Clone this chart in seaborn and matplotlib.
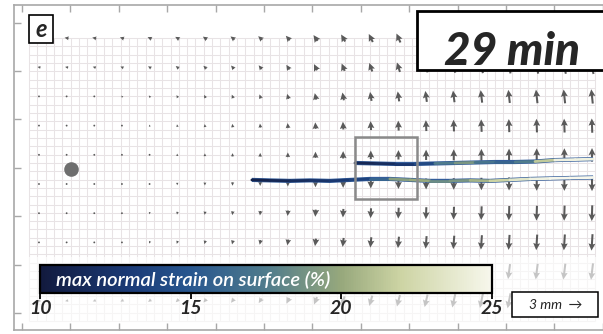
import numpy as np
import matplotlib
matplotlib.use('Agg')
import matplotlib.pyplot as plt
import seaborn as sns
from matplotlib.colors import LinearSegmentedColormap, Normalize
from matplotlib.collections import LineCollection
from matplotlib.patches import Rectangle
import matplotlib.cm as cm

# --- displacement field (mm-ish, axis units) ---
# vertical displacement per column (near the crack), left -> right
col_disp = [0.010, 0.014, 0.021, 0.031, 0.041, 0.052, 0.062, 0.072, 0.083, 0.103,
            0.134, 0.160, 0.185, 0.205, 0.225, 0.240, 0.258, 0.270, 0.280, 0.285, 0.295]
# per row (top -> bottom): gain, side of crack (+ up / - down), leftward drift
row_gain = [0.9, 0.95, 1.0, 1.0, 0.95, 1.0, 1.1, 1.15, 1.15, 1.15]
row_side = [1, 1, 1, 1, 1, -1, -1, -1, -1, -1]
row_drift = [0.083, 0.062, 0.031, 0.010, 0.0, 0.0, 0.010, 0.021, 0.041, 0.062]

# --- crack traces with max normal strain (%) ---
lower_x = [4.75, 5.12, 5.54, 5.95, 6.36, 6.78, 7.19, 7.60, 8.02, 8.43, 8.84, 9.26,
           9.67, 10.08, 10.50, 10.91, 11.32, 11.80]
lower_y = [2.75, 2.74, 2.73, 2.74, 2.73, 2.75, 2.77, 2.77, 2.75, 2.73, 2.73, 2.74,
           2.73, 2.75, 2.77, 2.78, 2.79, 2.80]
lower_strain = [10.5, 11, 11.5, 12, 12.5, 13, 14, 18, 21, 19, 18, 20, 21, 23, 24,
                25, 25, 25]

upper_x = [6.88, 7.29, 7.71, 8.12, 8.53, 8.95, 9.36, 9.77, 10.19, 10.60, 11.01, 11.43, 11.80]
upper_y = [3.10, 3.09, 3.08, 3.08, 3.09, 3.10, 3.11, 3.12, 3.12, 3.13, 3.16, 3.17, 3.18]
upper_strain = [11, 11.5, 12, 13, 15, 20, 18, 16, 16, 19, 24, 25, 24]

hole_x, hole_y = [1.01], [2.98]
strain_ticks = [10, 15, 20, 25]
strain_label = 'max normal strain on surface (%)'
panel_label = 'e'
time_label = '29 min'
scale_label = '3 mm  \u2192'

sns.set_theme(style='white')
plt.rcParams['font.family'] = ['Lato', 'DejaVu Sans']

cmap = LinearSegmentedColormap.from_list('strain', [
    (0.0, '#121a3e'), (0.2, '#1b3b77'), (0.333, '#28578f'), (0.5, '#4f7b8c'),
    (0.667, '#97a87c'), (0.8, '#cdd4a4'), (1.0, '#f7f7ec')])
norm = Normalize(10, 25)

fig = plt.figure(figsize=(6.03, 3.34), dpi=100)
ax = fig.add_axes([14 / 603, 4 / 334, 598 / 603, 325 / 334])
ax.set_xlim(-0.165, 12.19)
ax.set_ylim(-0.351, 6.364)
ax.set_facecolor('white')

for s in ax.spines.values():
    s.set_color('#a8a8a8')
    s.set_linewidth(1.2)
    s.set_zorder(10)
ax.set_xticks(range(13))
ax.set_yticks(range(7))
ax.tick_params(direction='in', length=5, width=1, color='#a8a8a8', top=True, right=True,
               bottom=True, left=True, labelbottom=False, labelleft=False)

# fine background grid
gx = np.linspace(0.145, 11.84, 69)
gy = np.linspace(-0.165, 5.68, 35)
ax.vlines(gx, gy[0], gy[-1], color='#e8e3e5', lw=0.75, zorder=1)
ax.hlines(gy, gx[0], gx[-1], color='#e8e3e5', lw=0.75, zorder=1)

# displacement arrows
X, Y = np.meshgrid(0.351 + 0.5713 * np.arange(len(col_disp)),
                   5.682 - 0.6033 * np.arange(len(row_gain)))
V = np.outer(np.array(row_side) * np.array(row_gain), col_disp)
U = -np.outer(row_drift, np.ones(len(col_disp)))
ax.quiver(X, Y, U, V, angles='xy', scale_units='xy', scale=1, units='xy',
          width=0.042, headwidth=3.4, headlength=3.5, headaxislength=3.1,
          pivot='mid', color='#5a5a5a', zorder=3)

# cracks coloured by strain
for xs, ys, ss in ((lower_x, lower_y, lower_strain), (upper_x, upper_y, upper_strain)):
    ax.plot(xs, ys, color='#345d9a', lw=3.0, solid_capstyle='butt', zorder=4)
    pts = np.column_stack([xs, ys])
    segs = np.stack([pts[:-1], pts[1:]], axis=1)
    ss = np.asarray(ss, dtype=float)
    lc = LineCollection(segs, cmap=cmap, norm=norm, lw=2.0, zorder=5, capstyle='round')
    lc.set_array((ss[:-1] + ss[1:]) / 2)
    ax.add_collection(lc)

# hole marker
sns.scatterplot(x=hole_x, y=hole_y, s=110, color='#6e6e6e', linewidth=0, ax=ax, zorder=6)

# zoom window
ax.add_patch(Rectangle((6.88, 2.355), 1.28, 1.28, fill=False, edgecolor='#8a8a8a',
                       lw=1.8, zorder=6))

# faded band at the bottom
ax.add_patch(Rectangle((0.0, -0.186), 12.2, 1.343, facecolor='white', alpha=0.65,
                       lw=0, zorder=7))

# colour bar
cax = fig.add_axes([40 / 603, 41 / 334, 452 / 603, 28 / 334])
sm = cm.ScalarMappable(norm=norm, cmap=cmap)
cb = fig.colorbar(sm, cax=cax, orientation='horizontal', ticks=strain_ticks)
cb.outline.set_linewidth(1.6)
cb.outline.set_edgecolor('black')
cax.tick_params(direction='out', length=4, width=1.3, color='black', labelsize=14, pad=1)
for t in cax.get_xticklabels():
    t.set_fontstyle('italic')
    t.set_fontweight('bold')
cax.text(0.036, 0.45, strain_label, transform=cax.transAxes, color='white', fontsize=14.5,
         style='italic', weight='semibold', va='center', ha='left')

# time label box
fig.add_artist(Rectangle((417 / 603, 264 / 334), 195 / 603, 59 / 334,
                         transform=fig.transFigure, facecolor='white',
                         edgecolor='black', lw=2))
fig.text(512 / 603, 269 / 334, time_label, fontsize=33, weight='black', style='italic',
         ha='center', va='baseline')

# panel label
fig.add_artist(Rectangle((29 / 603, 291 / 334), 24 / 603, 28 / 334,
                         transform=fig.transFigure, facecolor='white',
                         edgecolor='black', lw=1.2))
fig.text(41 / 603, 297 / 334, panel_label, fontsize=17, weight='bold', style='italic',
         ha='center', va='baseline')

# scale box
fig.add_artist(Rectangle((512 / 603, 17 / 334), 86 / 603, 25 / 334,
                         transform=fig.transFigure, facecolor='white',
                         edgecolor='black', lw=1.1))
fig.text(556 / 603, 29 / 334, scale_label, fontsize=10, style='italic',
         ha='center', va='center')

fig.savefig('out.png', dpi=100)
